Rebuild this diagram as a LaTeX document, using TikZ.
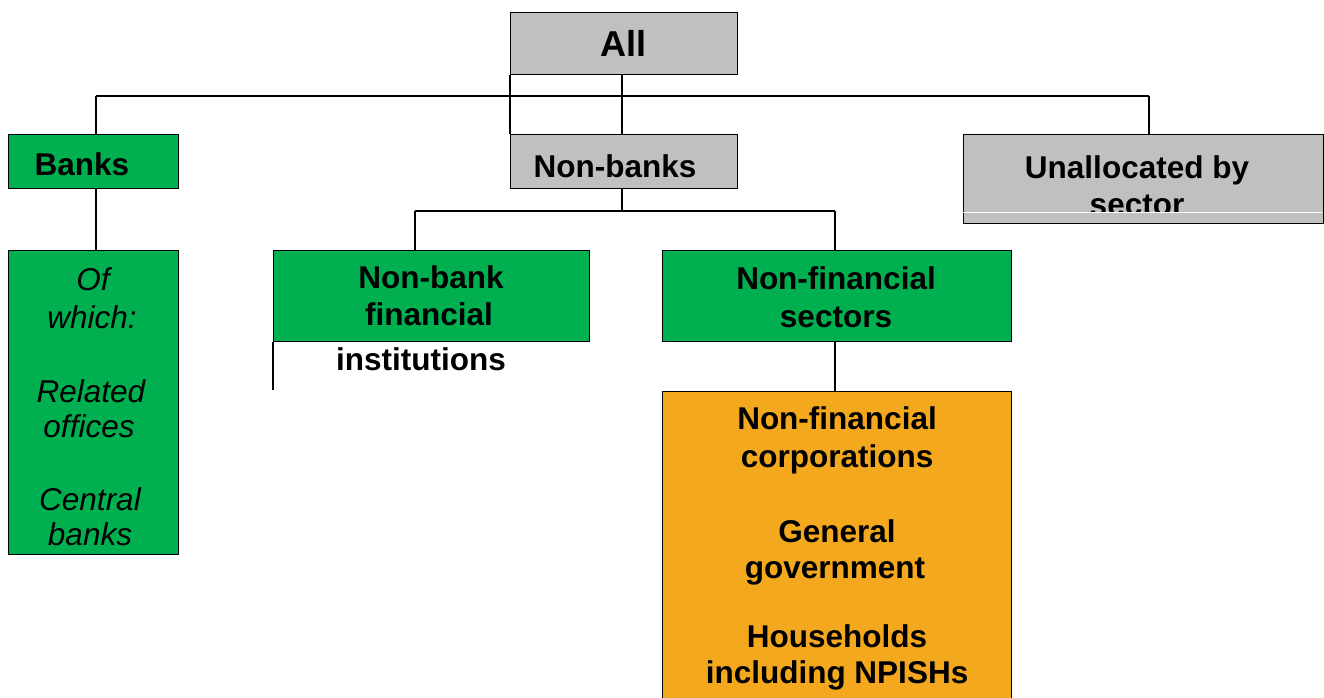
\documentclass[tikz,border=0pt]{standalone}
\usepackage{fontspec}
\setmainfont{Liberation Sans}
\definecolor{boxgrey}{HTML}{C0C0C0}
\definecolor{boxgreen}{HTML}{00B050}
\definecolor{boxorange}{HTML}{F4A81D}
\begin{document}
\begin{tikzpicture}[x=1pt,y=-1pt,
  box/.style={draw=black, line width=1.2pt, inner sep=0pt, anchor=north west},
  conn/.style={draw=black, line width=1.3pt},
  txt/.style={inner sep=0pt, anchor=base, font=\fontsize{31.5}{37}\selectfont\bfseries},
  itxt/.style={inner sep=0pt, anchor=base, font=\fontsize{31.5}{37}\selectfont\itshape}]
\useasboundingbox (0,0) rectangle (1324,698);
\clip (0,0) rectangle (1324,698);
% boxes
\node[box, fill=boxgrey, minimum width=227pt, minimum height=62pt] (all) at (510,12) {};
\node[box, fill=boxgreen, minimum width=170pt, minimum height=54pt] (banks) at (8,134) {};
\node[box, fill=boxgrey, minimum width=227pt, minimum height=54pt] (nonbanks) at (510,134) {};
\node[box, fill=boxgrey, minimum width=360pt, minimum height=89pt] (unalloc) at (963,134) {};
\node[box, fill=boxgreen, minimum width=170pt, minimum height=304pt] (ofwhich) at (8,250) {};
\node[box, fill=boxgreen, minimum width=316pt, minimum height=91pt] (nbfi) at (273,250) {};
\node[box, fill=boxgreen, minimum width=349pt, minimum height=91pt] (nfs) at (662,250) {};
\node[box, fill=boxorange, minimum width=349pt, minimum height=320pt] (orange) at (662,391) {};
% connectors
\coordinate (hl) at (96,96);
\coordinate (hr) at (1149,96);
\coordinate (hm) at (622,96);
\draw[conn] (hl) -- (hr);
\draw[conn] (hl) -- (hl |- banks.north);
\draw[conn] (hr) -- (hr |- unalloc.north);
\draw[conn] (hm |- all.south) -- (hm |- nonbanks.north);
\draw[conn] (all.south west) -- (nonbanks.north west);
\draw[conn] (hl |- banks.south) -- (hl |- ofwhich.north);
\coordinate (sl) at (415,211);
\coordinate (sr) at (835,211);
\draw[conn] (hm |- nonbanks.south) -- (hm |- sl);
\draw[conn] (sl) -- (sr);
\draw[conn] (sl) -- (sl |- nbfi.north);
\draw[conn] (sr) -- (sr |- nfs.north);
\draw[conn] (sr |- nfs.south) -- (sr |- orange.north);
\coordinate (nbfiend) at (273,390);
\draw[conn] (nbfi.south west) -- (nbfiend);
% texts
\node[inner sep=0pt, anchor=base, font=\fontsize{36}{40}\selectfont\bfseries] (tall) at (623,57) {All};
\node[txt] (tbanks) at (82,175) {Banks};
\node[txt] (tnonbanks) at (615,177) {Non-banks};
\begin{scope}
\clip (963,134) rectangle (1323,211);
\node[txt] (tun1) at (1137,178) {Unallocated by};
\node[txt] (tun2) at (1137,215) {sector};
\end{scope}
\draw[white, line width=1pt] (963,212) -- (1322,212);
\node[txt] (tnb1) at (431,288) {Non-bank};
\node[txt] (tnb2) at (429,325) {financial};
\node[txt] (tnb3) at (421,370) {institutions};
\node[txt] (tnf1) at (836,289) {Non-financial};
\node[txt] (tnf2) at (836,327) {sectors};
\node[txt] (to1) at (837,429) {Non-financial};
\node[txt] (to2) at (837,467) {corporations};
\node[txt] (to3) at (837,542) {General};
\node[txt] (to4) at (835,578) {government};
\node[txt] (to5) at (837,647) {Households};
\node[txt] (to6) at (837,683) {including NPISHs};
\node[itxt] (tw1) at (93,290) {Of};
\node[itxt] (tw2) at (92,328) {which:};
\node[itxt] (tw3) at (91,402) {Related};
\node[itxt] (tw4) at (89,437) {offices};
\node[itxt] (tw5) at (90,510) {Central};
\node[itxt] (tw6) at (90,545) {banks};
\end{tikzpicture}
\end{document}
